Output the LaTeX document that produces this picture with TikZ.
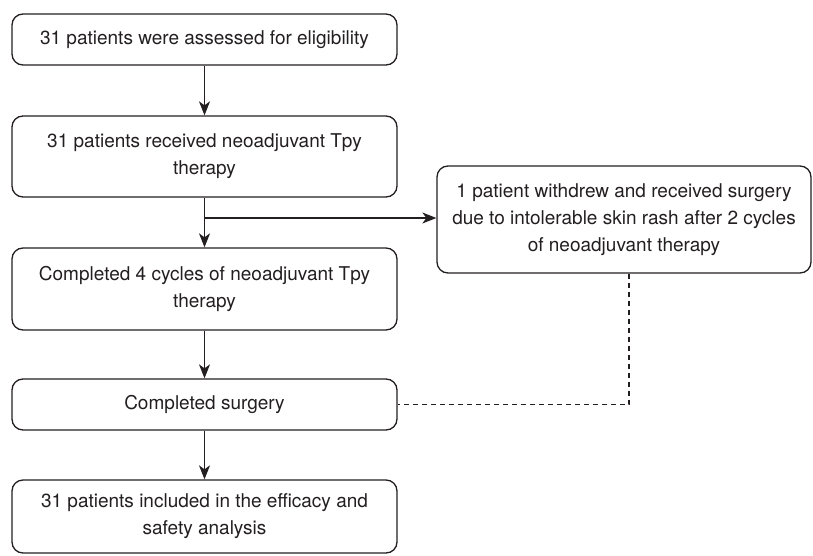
\documentclass[tikz,border=0pt]{standalone}
\usepackage{fontspec}
\setmainfont{TeX Gyre Heros}
\usetikzlibrary{arrows.meta}
\definecolor{ink}{HTML}{231F20}
\tikzset{
  box/.style={draw=ink, line width=1.3pt, rounded corners=11pt, align=center,
    text=ink, inner sep=0pt, font=\fontsize{19}{27}\selectfont},
  arr/.style={draw=ink, line width=1.3pt, -{Stealth[length=14pt,width=11pt,inset=4pt]}},
  dashline/.style={draw=ink, line width=1.1pt, dash pattern=on 5pt off 4pt}
}
\begin{document}
\begin{tikzpicture}[x=1pt,y=-1pt]
\useasboundingbox (0,0) rectangle (813,556);
\node[box, minimum width=385pt, minimum height=51pt] (b1) at (204.5,39.5) {31 patients were assessed for eligibility};
\node[box, minimum width=385pt, minimum height=81pt] (b2) at (204.5,156.5) {31 patients received neoadjuvant Tpy\\therapy};
\node[box, minimum width=385pt, minimum height=82pt] (b3) at (204.5,289) {Completed 4 cycles of neoadjuvant Tpy\\therapy};
\node[box, minimum width=385pt, minimum height=51pt] (b4) at (204.5,404.5) {Completed surgery};
\node[box, minimum width=385pt, minimum height=73pt] (b5) at (204.5,516.5) {31 patients included in the efficacy and\\safety analysis};
\node[box, minimum width=374pt, minimum height=107pt] (r) at (624,219.5) {1 patient withdrew and received surgery\\due to intolerable skin rash after 2 cycles\\of neoadjuvant therapy};
\coordinate (br) at (204.5,218);
\draw[arr] (b1) -- (b2);
\draw[arr] (b2) -- (b3);
\draw[arr] (br) -- (br -| r.west);
\draw[arr] (b3) -- (b4);
\draw[arr] (b4) -- (b5);
\draw[dashline] ([xshift=5pt]r.south) |- (b4.east);
\end{tikzpicture}
\end{document}
